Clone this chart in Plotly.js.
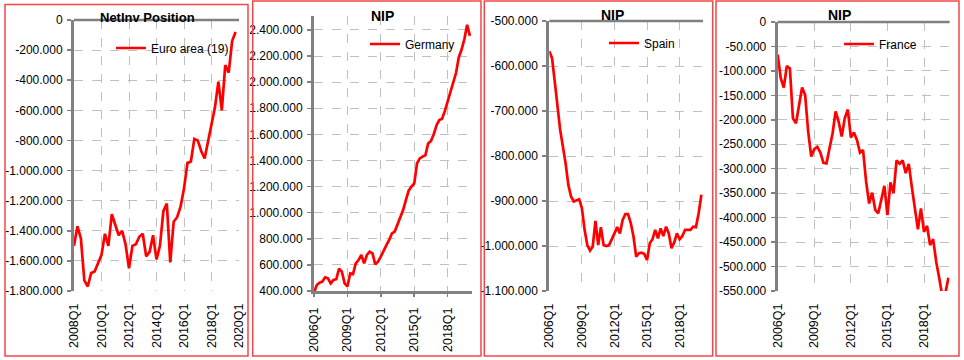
<!DOCTYPE html>
<html><head><meta charset="utf-8">
<script src="https://cdn.plot.ly/plotly-3.0.1.min.js"></script>
<style>html,body{margin:0;padding:0;background:#fff;overflow:hidden;} #chart{width:964px;height:360px;}</style>
</head><body><div id="chart"></div>
<script>
// ---------- data (values in EUR millions) ----------
function quarterLabels(y0, y1) { var out = []; for (var y = y0; y <= y1; y++) { for (var q = 1; q <= 4; q++) out.push(y + 'Q' + q); } return out; }
var quartersEA = quarterLabels(2008, 2019).concat(['2020Q1']);        // axis categories 2008Q1..2020Q1
var quartersNat = quarterLabels(2006, 2019).concat(['2020Q1']);       // 2006Q1..2020Q1

var euroArea = [-1500000,-1370000,-1450000,-1730000,-1770000,-1680000,-1670000,-1620000,-1560000,-1420000,
  -1500000,-1290000,-1360000,-1430000,-1400000,-1490000,-1650000,-1500000,-1490000,-1440000,
  -1420000,-1570000,-1540000,-1430000,-1590000,-1500000,-1270000,-1220000,-1610000,-1340000,
  -1310000,-1240000,-1120000,-950000,-940000,-790000,-800000,-870000,-920000,-800000,
  -700000,-580000,-410000,-600000,-300000,-350000,-140000,-80000];
var germany = [387000,446000,464000,472000,505000,497000,459000,484000,490000,572000,
  548000,459000,435000,535000,530000,612000,637000,676000,612000,676000,
  701000,689000,604000,625000,663000,714000,752000,791000,842000,855000,
  913000,957000,1020000,1097000,1169000,1200000,1225000,1378000,1416000,1430000,
  1440000,1530000,1550000,1600000,1670000,1710000,1720000,1780000,1850000,1930000,
  2000000,2070000,2190000,2250000,2330000,2440000,2355000];
var spain = [-567000,-582000,-634000,-686000,-742000,-779000,-816000,-864000,-890000,-901000,
  -898000,-896000,-916000,-964000,-998000,-1010000,-1001000,-944000,-998000,-958000,
  -998000,-1000000,-998000,-983000,-972000,-958000,-972000,-942000,-929000,-929000,
  -949000,-979000,-1024000,-1016000,-1015000,-1018000,-1031000,-994000,-985000,-964000,
  -983000,-961000,-978000,-957000,-972000,-1005000,-992000,-972000,-985000,-978000,
  -964000,-964000,-964000,-957000,-958000,-927000,-886000];
var france = [-67000,-115000,-134000,-90000,-95000,-197000,-207000,-166000,-134000,-149000,
  -224000,-275000,-260000,-255000,-267000,-288000,-289000,-258000,-228000,-183000,
  -204000,-234000,-197000,-179000,-236000,-226000,-241000,-267000,-262000,-326000,
  -371000,-349000,-384000,-391000,-360000,-335000,-395000,-328000,-350000,-283000,
  -290000,-283000,-309000,-290000,-337000,-378000,-424000,-381000,-429000,-417000,
  -456000,-444000,-490000,-524000,-560000,-555000,-523000];

// tick labels
var xTicksEA = ['2008Q1','2010Q1','2012Q1','2014Q1','2016Q1','2018Q1','2020Q1'];
var xTicksNat = ['2006Q1','2009Q1','2012Q1','2015Q1','2018Q1'];
var yValsEA = [0,-200000,-400000,-600000,-800000,-1000000,-1200000,-1400000,-1600000,-1800000];
var yTextEA = ['0','-200.000','-400.000','-600.000','-800.000','-1.000.000','-1.200.000','-1.400.000','-1.600.000','-1.800.000'];
var yValsDE = [400000,600000,800000,1000000,1200000,1400000,1600000,1800000,2000000,2200000,2400000];
var yTextDE = ['400.000','600.000','800.000','1.000.000','1.200.000','1.400.000','1.600.000','1.800.000','2.000.000','2.200.000','2.400.000'];
var yValsES = [-500000,-600000,-700000,-800000,-900000,-1000000,-1100000];
var yTextES = ['-500.000','-600.000','-700.000','-800.000','-900.000','-1.000.000','-1.100.000'];
var yValsFR = [0,-50000,-100000,-150000,-200000,-250000,-300000,-350000,-400000,-450000,-500000,-550000];
var yTextFR = ['0','-50.000','-100.000','-150.000','-200.000','-250.000','-300.000','-350.000','-400.000','-450.000','-500.000','-550.000'];

var titles = ['NetInv Position','NIP','NIP','NIP'];
var seriesNames = ['Euro area (19)','Germany','Spain','France'];

// ---------- layout helpers ----------
var W = 964, H = 360;
function px(x) { return x / W; }
function py(y) { return 1 - y / H; }
var FONT = 'Liberation Sans, Arial, sans-serif';
var GRID = '#c0c0c0', AX = '#808080';

var panels = [
  {x0:74,   x1:239,   yTop:20, yBot:291, xr:[0,48],   yr:[-1800000,0],      cats:quartersEA,  xt:xTicksEA,  yv:yValsEA, yt:yTextEA, data:euroArea, topLine:true,
   box:[5,4.5,248,356], title:{x:147,y:17,size:13}, leg:{x:111,y:48}},
  {x0:314,  x1:471.6, yTop:16, yBot:291, xr:[0,56.6], yr:[400000,2507000],  cats:quartersNat, xt:xTicksNat, yv:yValsDE, yt:yTextDE, data:germany,  topLine:false,
   box:[252.7,1,481,356], title:{x:382,y:16,size:14}, leg:{x:365,y:44}},
  {x0:549.3,x1:703,   yTop:21, yBot:291, xr:[0,56.6], yr:[-1100000,-500000],cats:quartersNat, xt:xTicksNat, yv:yValsES, yt:yTextES, data:spain,    topLine:true,
   box:[484.3,1,712.7,356], title:{x:612,y:15,size:14}, leg:{x:604,y:43}},
  {x0:777.7,x1:949.6, yTop:22, yBot:291, xr:[0,56.4], yr:[-550000,0],       cats:quartersNat, xt:xTicksNat, yv:yValsFR, yt:yTextFR, data:france,   topLine:true,
   box:[716,1,959,356], title:{x:839,y:15,size:14}, leg:{x:839,y:44}}
];

var traces = [];
var layout = {
  width: W, height: H, autosize: false, showlegend: true,
  margin: {l:0, r:0, t:0, b:0, pad:0},
  paper_bgcolor: '#ffffff', plot_bgcolor: 'rgba(0,0,0,0)',
  font: {family: FONT, color: '#000000', size: 12},
  shapes: [], annotations: []
};

panels.forEach(function (p, i) {
  var n = i === 0 ? '' : String(i + 1);
  var legName = i === 0 ? 'legend' : 'legend' + (i + 1);
  traces.push({
    type: 'scatter', mode: 'lines',
    x: p.cats.slice(0, p.data.length), y: p.data,
    xaxis: 'x' + n, yaxis: 'y' + n,
    name: seriesNames[i], legend: legName, showlegend: true,
    line: {color: '#ff0000', width: 2.7},
    hoverinfo: 'skip'
  });
  layout['xaxis' + n] = {
    domain: [px(p.x0), px(p.x1)], anchor: 'y' + n,
    type: 'category', categoryorder: 'array', categoryarray: p.cats,
    range: p.xr, tickmode: 'array', tickvals: p.xt, ticktext: p.xt,
    tickangle: -90, tickfont: {family: FONT, size: 12.5, color: '#000'},
    showgrid: true, gridcolor: GRID, griddash: 'dash', gridwidth: 1,
    zeroline: false, fixedrange: true,
    showline: !p.topLine, linecolor: AX, linewidth: 2.5,
    ticks: p.topLine ? '' : 'outside', ticklen: 3, tickcolor: AX, tickwidth: 1.5,
    ticklabelstandoff: p.topLine ? 9 : 6
  };
  layout['yaxis' + n] = {
    domain: [py(p.yBot), py(p.yTop)], anchor: 'x' + n,
    range: p.yr, tickmode: 'array', tickvals: p.yv, ticktext: p.yt,
    tickfont: {family: FONT, size: 12, color: '#000'},
    showgrid: true, gridcolor: GRID, griddash: 'dash', gridwidth: 1,
    zeroline: false, fixedrange: true,
    showline: true, linecolor: AX, linewidth: 3,
    ticks: 'outside', ticklen: 4, tickcolor: AX, tickwidth: 1.5,
    ticklabelstandoff: 2
  };
  if (p.topLine) {
    layout.shapes.push({type: 'line', xref: 'x' + n + ' domain', yref: 'y' + n + ' domain',
      x0: 0, x1: 1, y0: 1, y1: 1, line: {color: AX, width: 2.5}});
  }
  // panel border
  layout.shapes.push({type: 'rect', xref: 'paper', yref: 'paper',
    x0: px(p.box[0]), x1: px(p.box[2]), y0: py(p.box[3]), y1: py(p.box[1]),
    line: {color: '#f04848', width: 1.5}, layer: 'above'});
  layout.annotations.push({xref: 'paper', yref: 'paper', x: px(p.title.x), y: py(p.title.y),
    xanchor: 'center', yanchor: 'middle', showarrow: false,
    text: '<b>' + titles[i] + '</b>', font: {family: FONT, size: p.title.size, color: '#000'}});
  layout[legName] = {x: px(p.leg.x), y: py(p.leg.y), xanchor: 'left', yanchor: 'middle',
    bgcolor: 'rgba(0,0,0,0)', borderwidth: 0, font: {family: FONT, size: 12, color: '#000'},
    itemclick: false, itemdoubleclick: false};
});

Plotly.newPlot('chart', traces, layout, {displayModeBar: false, staticPlot: true});
</script></body></html>
